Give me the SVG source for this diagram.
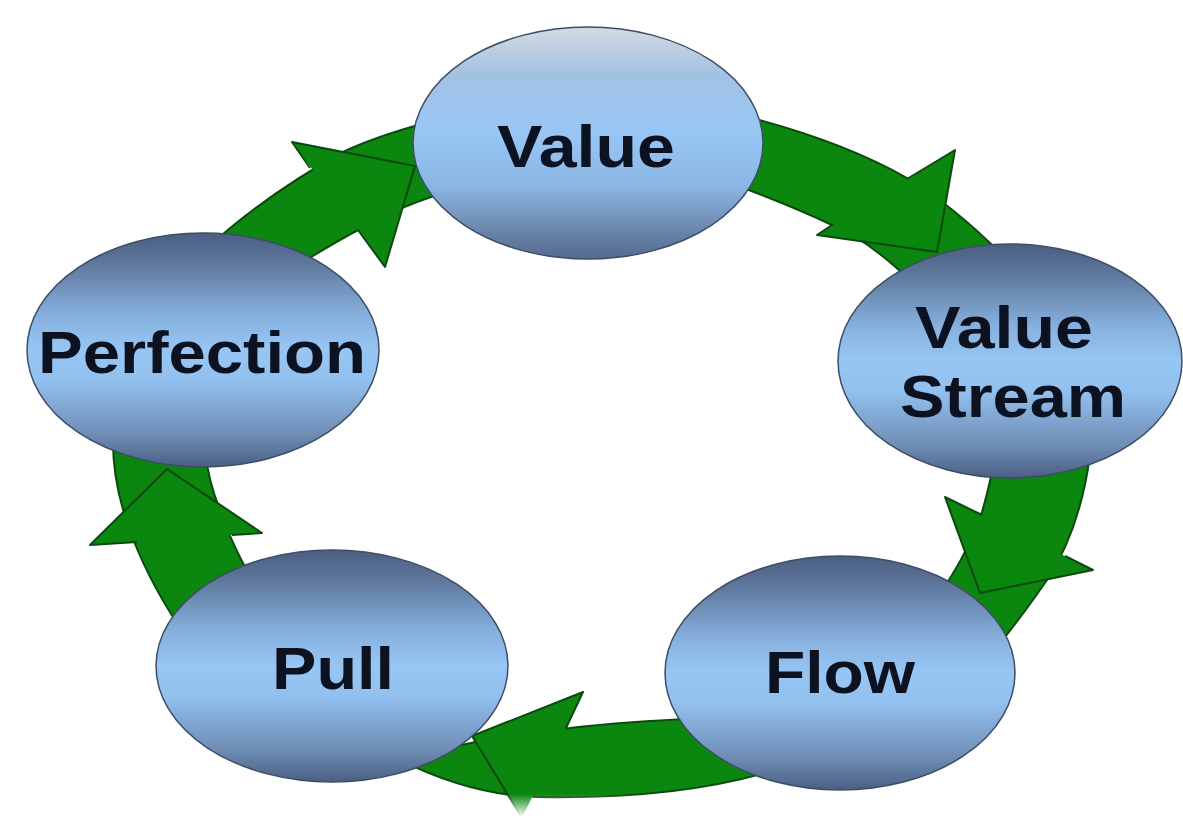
<svg xmlns="http://www.w3.org/2000/svg" width="1183" height="816" viewBox="0 0 1183 816">
<defs>
<linearGradient id="ell" x1="0" y1="0" x2="0" y2="1">
<stop offset="0" stop-color="#4a5f82"/>
<stop offset="0.12" stop-color="#5d7599"/>
<stop offset="0.35" stop-color="#86b0de"/>
<stop offset="0.5" stop-color="#97c6f5"/>
<stop offset="0.63" stop-color="#92c0ef"/>
<stop offset="0.86" stop-color="#6f8db5"/>
<stop offset="1" stop-color="#4a5f82"/>
</linearGradient>
<linearGradient id="ellV" x1="0" y1="0" x2="0" y2="1">
<stop offset="0" stop-color="#d3dae3"/>
<stop offset="0.2" stop-color="#a3c2e2"/>
<stop offset="0.45" stop-color="#97c6f5"/>
<stop offset="0.68" stop-color="#8cb7e5"/>
<stop offset="0.88" stop-color="#6a85aa"/>
<stop offset="1" stop-color="#536a8c"/>
</linearGradient>
<linearGradient id="fade" x1="0" y1="0" x2="0" y2="1">
<stop offset="0" stop-color="#ffffff" stop-opacity="0"/>
<stop offset="1" stop-color="#ffffff" stop-opacity="0.95"/>
</linearGradient>
</defs>
<style>
.band{fill:#0b860f;stroke:#0b4a0e;stroke-width:2;stroke-linejoin:round}
.head{fill:#0b860f;stroke:none}
.edge{fill:none;stroke:#0b4a0e;stroke-width:2;stroke-linejoin:round}
.node ellipse{fill:url(#ell);stroke:#3d4d66;stroke-width:1.5}
#node-value ellipse{fill:url(#ellV)}
.label{font-family:"Liberation Sans",Arial,sans-serif;font-weight:bold;font-size:59px;fill:#0d1220;text-anchor:middle}
</style>
<rect width="1183" height="816" fill="#ffffff"/>
<g id="connectors">
<g id="arrow-perfection-value">
<path class="band" d="M205,250 Q265,195 343,152 Q380,134 455,115 L460,188 Q400,205 358,230 Q330,245 290,270 Z"/>
<polygon class="head" points="292,142 415,166 385,267"/>
<path class="edge" d="M310,168 L292,142 L415,166 L385,267 L358,230"/>
</g>
<g id="arrow-value-stream">
<path class="band" d="M740,115 Q840,140 907,178 Q960,210 1015,268 L920,290 Q870,240 832,225 Q790,205 730,183 Z"/>
<polygon class="head" points="955,150 937,252 817,235"/>
<path class="edge" d="M907,179 L955,150 L937,252 L817,235 L832,225"/>
</g>
<g id="arrow-stream-flow">
<path class="band" d="M1090,455 Q1080,530 1047,580 Q1025,612 995,650 L935,600 Q965,560 982,512 Q990,485 995,455 Z"/>
<polygon class="head" points="945,497 980,593 1093,570"/>
<path class="edge" d="M982,515 L945,497 L980,593 L1093,570 L1065,556"/>
</g>
<g id="arrow-flow-pull">
<path class="band" d="M705,718 Q620,722 570,728 Q510,733 440,750 L400,760 Q470,795 537,797 Q690,800 790,765 Z"/>
<polygon class="head" points="583,692 472,736 522,818"/>
<path class="edge" d="M566,728 L583,692 L472,736 L522,818"/>
</g>
<g id="arrow-pull-perfection">
<path class="band" d="M180,628 Q145,575 128,525 Q112,480 113,435 L205,450 Q208,480 220,510 Q230,540 252,580 Z"/>
<polygon class="head" points="90,545 167,469 262,533"/>
<path class="edge" d="M137,542 L90,545 L167,469 L262,533 L232,535"/>
</g>
</g>
<rect x="0" y="794" width="1183" height="22" fill="url(#fade)"/>
<g id="node-value" class="node">
<ellipse cx="588" cy="143" rx="175" ry="116"/>
<text class="label" x="586" y="167" textLength="178" lengthAdjust="spacingAndGlyphs">Value</text>
</g>
<g id="node-value-stream" class="node">
<ellipse cx="1010" cy="361" rx="172" ry="117"/>
<text class="label" x="1004" y="348" textLength="178" lengthAdjust="spacingAndGlyphs">Value</text>
<text class="label" x="1013" y="417" textLength="226" lengthAdjust="spacingAndGlyphs">Stream</text>
</g>
<g id="node-flow" class="node">
<ellipse cx="840" cy="673" rx="175" ry="117"/>
<text class="label" x="840" y="693" textLength="150" lengthAdjust="spacingAndGlyphs">Flow</text>
</g>
<g id="node-pull" class="node">
<ellipse cx="332" cy="666" rx="176" ry="116"/>
<text class="label" x="333" y="689" textLength="122" lengthAdjust="spacingAndGlyphs">Pull</text>
</g>
<g id="node-perfection" class="node">
<ellipse cx="203" cy="350" rx="176" ry="117"/>
<text class="label" x="202" y="373" textLength="328" lengthAdjust="spacingAndGlyphs">Perfection</text>
</g>
</svg>
